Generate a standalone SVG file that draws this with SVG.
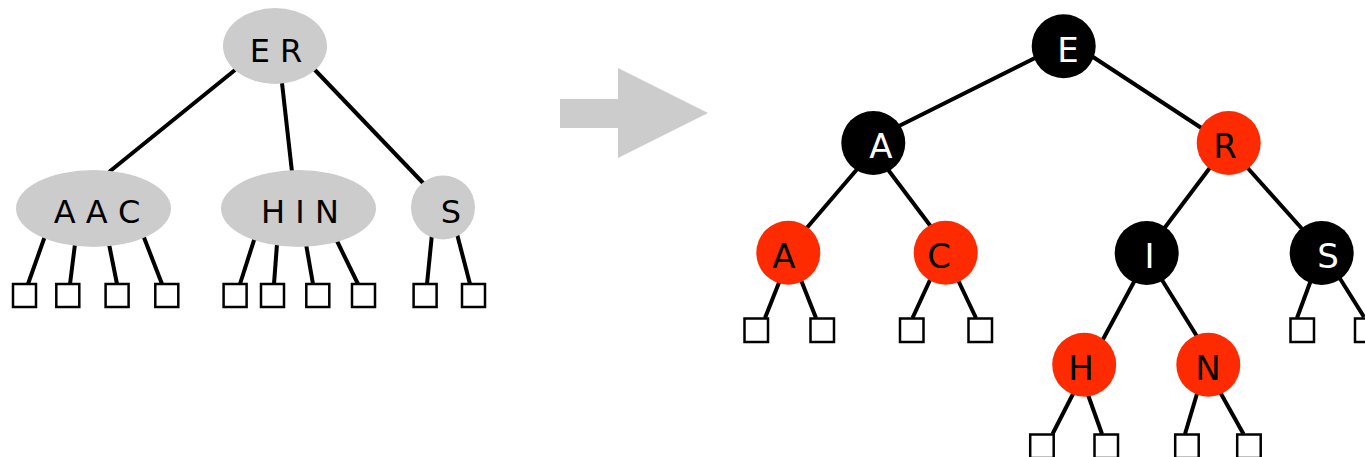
<svg xmlns="http://www.w3.org/2000/svg" width="1365" height="457" viewBox="0 0 1365 457">
<style>
.e{stroke:#000;stroke-width:4;fill:none}
.g{fill:#cccccc}
.b{fill:#000}
.r{fill:#ff2b00}
.leaf{fill:#fff;stroke:#000;stroke-width:2.5}
text{font-family:"DejaVu Sans",sans-serif;text-anchor:middle}
.lt{font-size:32px;fill:#000}
.wt{font-size:34px;fill:#fff}
.bt{font-size:34px;fill:#000}
</style>
<rect width="1365" height="457" fill="#fff"/>
<g id="connectors">
<line class="e" x1="235" y1="70" x2="109" y2="172"/>
<line class="e" x1="282" y1="83" x2="292" y2="172"/>
<line class="e" x1="314" y1="69" x2="425" y2="185"/>
<line class="e" x1="45" y1="236" x2="28" y2="284"/>
<line class="e" x1="75" y1="244" x2="70" y2="284"/>
<line class="e" x1="109" y1="244" x2="117" y2="284"/>
<line class="e" x1="143" y1="235" x2="162" y2="284"/>
<line class="e" x1="255" y1="237" x2="240" y2="284"/>
<line class="e" x1="277" y1="244" x2="274" y2="284"/>
<line class="e" x1="306" y1="244" x2="313" y2="284"/>
<line class="e" x1="336" y1="239" x2="358" y2="284"/>
<line class="e" x1="432" y1="234" x2="427" y2="284"/>
<line class="e" x1="457" y1="234" x2="470" y2="284"/>
<line class="e" x1="1037" y1="57" x2="895" y2="128"/>
<line class="e" x1="1090" y1="55" x2="1206" y2="131"/>
<line class="e" x1="859" y1="167" x2="805" y2="230"/>
<line class="e" x1="886" y1="167" x2="932" y2="228"/>
<line class="e" x1="1212" y1="165" x2="1163" y2="230"/>
<line class="e" x1="1245" y1="165" x2="1304" y2="231"/>
<line class="e" x1="1135" y1="280" x2="1101" y2="343"/>
<line class="e" x1="1162" y1="280" x2="1198" y2="338"/>
<line class="e" x1="780" y1="280" x2="765" y2="318"/>
<line class="e" x1="801" y1="280" x2="816" y2="318"/>
<line class="e" x1="930" y1="280" x2="912.5" y2="318"/>
<line class="e" x1="958" y1="280" x2="976" y2="318"/>
<line class="e" x1="1311" y1="280" x2="1297" y2="318"/>
<line class="e" x1="1339" y1="277" x2="1364" y2="317"/>
<line class="e" x1="1074" y1="392" x2="1052.5" y2="434"/>
<line class="e" x1="1087" y1="392" x2="1102" y2="434"/>
<line class="e" x1="1197.5" y1="392" x2="1185" y2="434"/>
<line class="e" x1="1220" y1="392" x2="1243.5" y2="434"/>
</g>
<g id="arrow"><polygon class="g" points="560,99 618,99 618,68 708,113 618,158 618,128 560,128"/></g>
<g id="n-ER"><ellipse class="g" cx="275" cy="46" rx="52" ry="38"/><text class="lt" x="276" y="62">E R</text></g>
<g id="n-AAC"><ellipse class="g" cx="93.5" cy="208.5" rx="77.5" ry="38.5"/><text class="lt" x="97" y="223">A A C</text></g>
<g id="n-HIN"><ellipse class="g" cx="298.5" cy="208.5" rx="77.5" ry="38.5"/><text class="lt" x="300" y="223">H I N</text></g>
<g id="n-S2"><ellipse class="g" cx="443" cy="207.5" rx="32" ry="32"/><text class="lt" x="451" y="223">S</text></g>
<g id="leaves-left">
<rect class="leaf" x="13" y="284" width="23" height="23"/>
<rect class="leaf" x="56.3" y="284" width="23" height="23"/>
<rect class="leaf" x="105.6" y="284" width="23" height="23"/>
<rect class="leaf" x="155.3" y="284" width="23" height="23"/>
<rect class="leaf" x="223.6" y="284" width="23" height="23"/>
<rect class="leaf" x="261" y="284" width="23" height="23"/>
<rect class="leaf" x="306.3" y="284" width="23" height="23"/>
<rect class="leaf" x="352" y="284" width="23" height="23"/>
<rect class="leaf" x="413.6" y="284" width="23" height="23"/>
<rect class="leaf" x="462" y="284" width="23" height="23"/>
</g>
<g id="n-E"><circle class="b" cx="1063.7" cy="46.3" r="32"/><text class="wt" x="1068" y="61.7">E</text></g>
<g id="n-A"><circle class="b" cx="873.3" cy="143" r="32"/><text class="wt" x="881" y="158.4">A</text></g>
<g id="n-R"><circle class="r" cx="1228.7" cy="143" r="32"/><text class="bt" x="1225" y="158.4">R</text></g>
<g id="n-A2"><circle class="r" cx="788.3" cy="252.7" r="32"/><text class="bt" x="784" y="268">A</text></g>
<g id="n-C"><circle class="r" cx="945.7" cy="252.7" r="32"/><text class="bt" x="939" y="268">C</text></g>
<g id="n-I"><circle class="b" cx="1146.7" cy="253" r="32"/><text class="wt" x="1149.5" y="268.3">I</text></g>
<g id="n-S"><circle class="b" cx="1321.7" cy="253" r="32"/><text class="wt" x="1328" y="268.3">S</text></g>
<g id="n-H"><circle class="r" cx="1084.2" cy="364.7" r="32"/><text class="bt" x="1081" y="380">H</text></g>
<g id="n-N"><circle class="r" cx="1208.3" cy="364.7" r="32"/><text class="bt" x="1208" y="380">N</text></g>
<g id="leaves-right">
<rect class="leaf" x="744.5" y="318.5" width="23.5" height="23.5"/>
<rect class="leaf" x="810.5" y="318.5" width="23.5" height="23.5"/>
<rect class="leaf" x="900" y="318.5" width="23.5" height="23.5"/>
<rect class="leaf" x="968.5" y="318.5" width="23.5" height="23.5"/>
<rect class="leaf" x="1290.5" y="318.5" width="23.5" height="23.5"/>
<rect class="leaf" x="1355" y="318.5" width="23.5" height="23.5"/>
<rect class="leaf" x="1030.2" y="434.5" width="23.5" height="23.5"/>
<rect class="leaf" x="1094.5" y="434.5" width="23.5" height="23.5"/>
<rect class="leaf" x="1175.2" y="434.5" width="23.5" height="23.5"/>
<rect class="leaf" x="1237.2" y="434.5" width="23.5" height="23.5"/>
</g>
</svg>
